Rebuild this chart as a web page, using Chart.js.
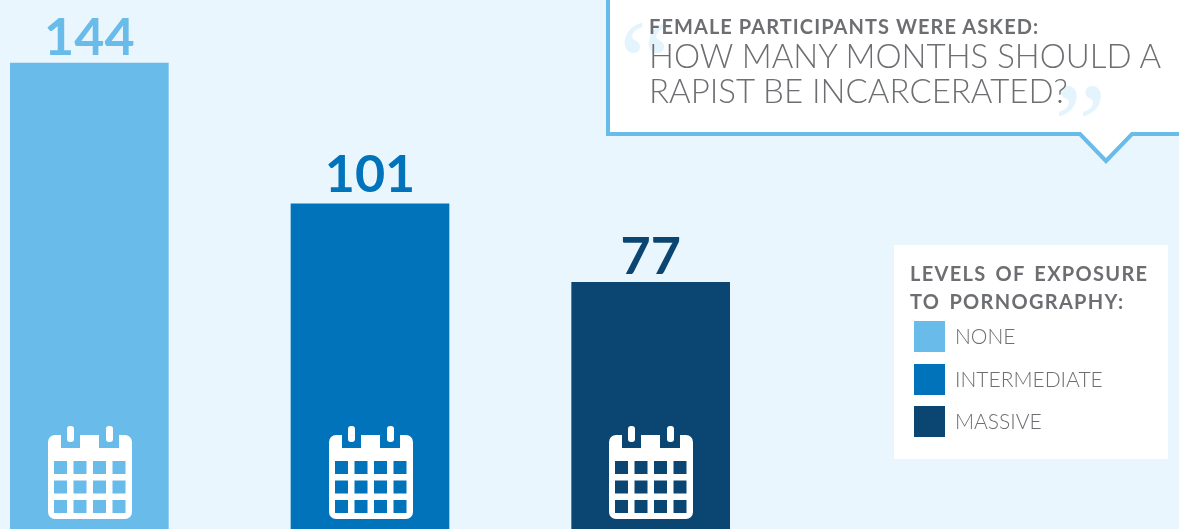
<!DOCTYPE html>
<html>
<head>
<meta charset="utf-8">
<title>Months of incarceration</title>
<script src="https://cdn.jsdelivr.net/npm/chart.js@4/dist/chart.umd.min.js"></script>
<style>
  html, body { margin: 0; padding: 0; background: #eaf6fd; }
  #stage { position: relative; width: 1179px; height: 529px; overflow: hidden; font-family: Lato, sans-serif; }
  /* bars start below the crop and the first slot is cut off on the left */
  #stage canvas { position: absolute; left: -51px; top: 0; }
  #callout { position: absolute; left: 0; top: 0; width: 1179px; height: 529px; pointer-events: none; }
  .txt { position: absolute; white-space: nowrap; color: #6d6e71; text-transform: uppercase; }
  #askedLine { left: 649px; top: 14px; font-size: 20px; font-weight: 700; letter-spacing: 1.07px; }
  #questionLine { left: 649px; top: 38px; font-size: 33px; line-height: 35px; font-weight: 300; }
  #legendBox { position: absolute; left: 894px; top: 245px; width: 274px; height: 214px; background: #fff; }
  #legendTitle { left: 16px; top: 14px; font-size: 20px; line-height: 28px; font-weight: 700; letter-spacing: 1.3px; word-spacing: 3px; }
  .swatch { position: absolute; left: 20px; width: 31px; height: 31px; }
  .legendLabel { left: 61px; font-size: 21px; line-height: 31px; font-weight: 300; letter-spacing: 0; margin-top: -1px; }
</style>
</head>
<body>
<div id="stage">
  <canvas id="barChart" width="842" height="534"></canvas>
  <svg id="callout" viewBox="0 0 1179 529">
    <path d="M608 -5 V134 H1080 L1106 161 L1132 134 H1185 V-5 Z" fill="#fff" stroke="#69bbe9" stroke-width="4"/>
    <text x="619" y="102" font-family="Liberation Serif" font-size="118" fill="#e4f4fc">“</text>
    <text x="1054" y="165" font-family="Liberation Serif" font-size="118" fill="#e4f4fc">”</text>
  </svg>
  <div class="txt" id="askedLine">Female participants were asked:</div>
  <div class="txt" id="questionLine">How many months should a<br>rapist be incarcerated?</div>
  <div id="legendBox">
    <div class="txt" id="legendTitle">Levels of exposure<br>to pornography:</div>
  </div>
</div>
<script>
// Data
const categories = ["None", "Intermediate", "Massive"];
const months = [144, 101, 77];
const barColors = ["#69bbe9", "#0073bb", "#0b4672"];

// Legend, same order as the bars
const legendBox = document.getElementById("legendBox");
categories.forEach((name, i) => {
  const top = 76 + i * 42.5;
  const swatch = document.createElement("div");
  swatch.className = "swatch";
  swatch.style.top = top + "px";
  swatch.style.background = barColors[i];
  legendBox.appendChild(swatch);
  const label = document.createElement("div");
  label.className = "txt legendLabel";
  label.style.top = top + "px";
  label.textContent = name;
  legendBox.appendChild(label);
});

function roundedRect(ctx, x, y, w, h, r) {
  ctx.beginPath();
  ctx.roundRect(x, y, w, h, r);
  ctx.fill();
}

// Calendar icon, white with holes in the bar colour
function drawCalendar(ctx, cx, bottom, color) {
  const left = Math.round(cx - 41.5);
  const top = bottom - 84;
  ctx.fillStyle = "#fff";
  roundedRect(ctx, left, top, 84, 84, 7);
  ctx.fillStyle = color;
  ctx.fillRect(left + 13, top, 19, 13);
  ctx.fillRect(left + 51, top, 20, 13);
  ctx.fillStyle = "#fff";
  roundedRect(ctx, left + 19, top - 9, 7, 16, 3);
  roundedRect(ctx, left + 58, top - 9, 7, 16, 3);
  ctx.fillStyle = color;
  for (let row = 0; row < 3; row++) {
    for (let col = 0; col < 4; col++) {
      ctx.fillRect(left + 6 + col * 19.5, top + 26 + row * 19.5, 13, 13);
    }
  }
}

const barDecor = {
  id: "barDecor",
  afterDatasetsDraw(chart) {
    const ctx = chart.ctx;
    chart.getDatasetMeta(0).data.forEach((bar, i) => {
      // the middle number sits a little higher above its bar
      const gap = i === 1 ? 12 : 8;
      ctx.save();
      ctx.fillStyle = barColors[i];
      ctx.font = "bold 52px Lato, sans-serif";
      ctx.textAlign = "center";
      ctx.textBaseline = "alphabetic";
      ctx.fillText(String(months[i]), bar.x, bar.y - gap);
      drawCalendar(ctx, bar.x, 519, barColors[i]);
      ctx.restore();
    });
  },
};

new Chart(document.getElementById("barChart"), {
  type: "bar",
  data: {
    labels: categories,
    datasets: [
      {
        data: months,
        backgroundColor: barColors,
        barThickness: 158,
        borderWidth: 0,
      },
    ],
  },
  options: {
    responsive: false,
    animation: false,
    plugins: {
      legend: { display: false },
      tooltip: { enabled: false },
    },
    scales: {
      x: { display: false },
      y: { display: false, min: 0, max: 163.3 },
    },
  },
  plugins: [barDecor],
});
</script>
</body>
</html>
